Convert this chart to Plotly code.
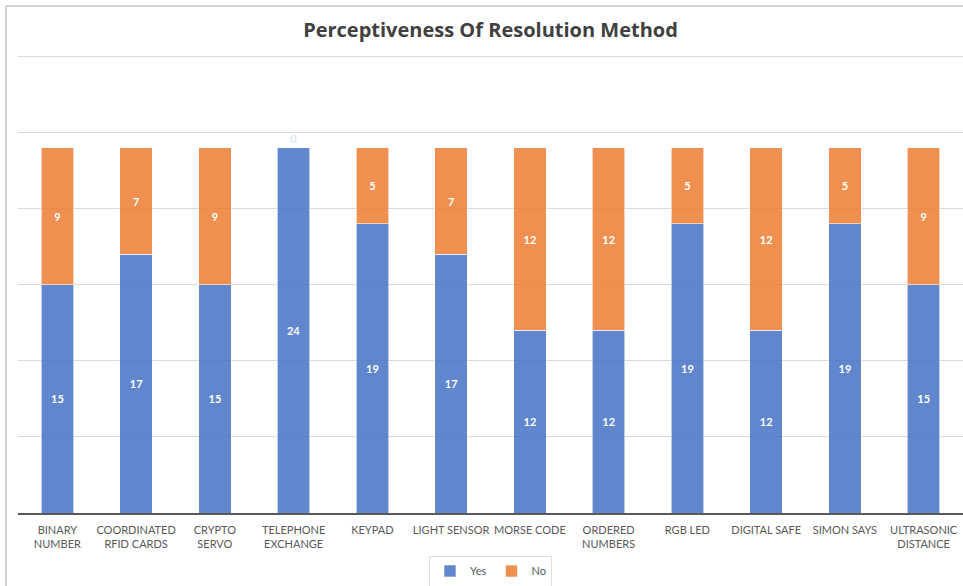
import plotly.graph_objects as go

categories = ["BINARY<br>NUMBER", "COORDINATED<br>RFID CARDS", "CRYPTO<br>SERVO",
              "TELEPHONE<br>EXCHANGE", "KEYPAD", "LIGHT SENSOR", "MORSE CODE",
              "ORDERED<br>NUMBERS", "RGB LED", "DIGITAL SAFE", "SIMON SAYS",
              "ULTRASONIC<br>DISTANCE"]
yes_values = [15, 17, 15, 24, 19, 17, 12, 12, 19, 12, 19, 15]
no_values = [9, 7, 9, 0, 5, 7, 12, 12, 5, 12, 5, 9]
y_ticks = [0, 5, 10, 15, 20, 25, 30]

FONT = "Lato"
blue = "rgba(68,114,196,0.85)"
orange = "rgba(237,125,49,0.85)"

fig = go.Figure()
fig.add_trace(go.Bar(
    x=categories, y=yes_values, name="Yes",
    marker=dict(color=blue, line=dict(color="rgba(255,255,255,0.6)", width=1)),
    text=yes_values, textposition="inside", insidetextanchor="middle",
    textfont=dict(color="white", size=11, family=FONT, weight="bold"),
    constraintext="none",
))
fig.add_trace(go.Bar(
    x=categories, y=no_values, name="No",
    marker=dict(color=orange, line=dict(color="rgba(255,255,255,0.6)", width=1)),
    text=no_values,
    textposition=["outside" if v == 0 else "inside" for v in no_values],
    insidetextanchor="middle",
    textfont=dict(color="white", size=11, family=FONT, weight="bold"),
    outsidetextfont=dict(color="#DDE6F5", size=11, family=FONT, weight="bold"),
    constraintext="none", cliponaxis=False,
))

W, H = 963, 586
L, R, T, B = 18, 0, 52, 73
pw, ph = W - L - R, H - T - B
# chart frame (left and top border)
fx = (6 - L) / pw
fy_top = (H - B - 6) / ph
fy_bot = (H - B - 590) / ph
fig.add_shape(type="line", xref="paper", yref="paper", x0=fx, x1=fx, y0=fy_bot, y1=fy_top,
              line=dict(color="#A6A6A6", width=1))
fig.add_shape(type="line", xref="paper", yref="paper", x0=fx, x1=1.05, y0=fy_top, y1=fy_top,
              line=dict(color="#A6A6A6", width=1))

fig.update_layout(
    width=W, height=H,
    margin=dict(l=L, r=R, t=T, b=B, autoexpand=False),
    barmode="stack", bargap=0.59,
    plot_bgcolor="white", paper_bgcolor="white",
    font=dict(family=FONT, color="#595959"),
    title=dict(text="<b>Perceptiveness Of Resolution Method</b>", x=0.5, xanchor="center",
               xref="paper", y=1 - 30 / H, yanchor="middle", yref="container",
               font=dict(size=20, color="#404040", family="Open Sans")),
    xaxis=dict(showline=True, linecolor="#595959", linewidth=1.5, ticks="", tickangle=0,
               ticklabelstandoff=6,
               tickfont=dict(size=11, color="#595959", family=FONT), showgrid=False),
    yaxis=dict(range=[0, 30.3], tickvals=y_ticks, showgrid=True,
               gridcolor="#D9D9D9", gridwidth=1,
               showticklabels=False, zeroline=False, showline=False),
    legend=dict(orientation="h", x=0.5, xanchor="center", xref="paper",
                y=(H - 571) / H, yanchor="middle", yref="container",
                bordercolor="#E0E0E0", borderwidth=1, font=dict(size=11, color="#595959"),
                traceorder="normal", itemwidth=30),
    showlegend=True,
)

fig.write_html("out.html", config={"displayModeBar": False},
               post_script="document.body.style.margin='0';document.body.style.overflow='hidden';")
